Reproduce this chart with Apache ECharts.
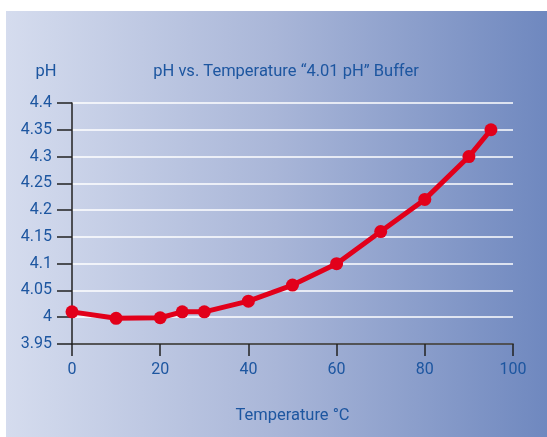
<!DOCTYPE html>
<html style="height: 100%">
<head>
    <meta charset="utf-8">
    <title>pH vs. Temperature</title>
</head>
<body style="height: 100%; margin: 0; background: #fff">
    <div id="container" style="width: 547px; height: 437px"></div>
    <script type="text/javascript" src="https://cdn.jsdelivr.net/npm/echarts@6/dist/echarts.min.js"></script>
    <script type="text/javascript">
        var temps = [0, 10, 20, 25, 30, 40, 50, 60, 70, 80, 90, 95];
        var phValues = [4.01, 3.998, 3.999, 4.01, 4.01, 4.03, 4.06, 4.10, 4.16, 4.22, 4.30, 4.35];
        var chartTitle = 'pH vs. Temperature \u201c4.01 pH\u201d Buffer';
        var yName = 'pH';
        var xName = 'Temperature \u00b0C';

        var data = temps.map(function (t, i) {
            return [t, phValues[i]];
        });

        var textBlue = '#1d56a0';
        var font = 'Roboto';

        var myChart = echarts.init(document.getElementById('container'));
        var option = {
            backgroundColor: '#ffffff',
            textStyle: { fontFamily: font },
            graphic: [{
                type: 'rect',
                z: -100,
                silent: true,
                shape: { x: 6, y: 11, width: 541, height: 426 },
                style: {
                    fill: new echarts.graphic.LinearGradient(0, 0, 1, 0, [
                        { offset: 0, color: '#d5dcee' },
                        { offset: 0.5, color: '#a9b6d8' },
                        { offset: 1, color: '#6f88bf' }
                    ])
                }
            }],
            title: [{
                text: chartTitle,
                left: 281,
                top: 58,
                textAlign: 'center',
                textStyle: { color: textBlue, fontSize: 16.5, fontWeight: 'normal', fontFamily: font }
            }, {
                text: yName,
                left: 41,
                top: 58,
                textAlign: 'center',
                textStyle: { color: textBlue, fontSize: 16.5, fontWeight: 'normal', fontFamily: font }
            }],
            grid: {
                left: 72,
                right: 34,
                top: 103,
                bottom: 93
            },
            xAxis: {
                type: 'value',
                min: 0,
                max: 100,
                interval: 20,
                name: xName,
                nameLocation: 'middle',
                nameGap: 63,
                nameTextStyle: { color: textBlue, fontSize: 16.5, fontFamily: font },
                axisLine: { lineStyle: { color: '#222', width: 1.5 } },
                axisTick: { show: true, length: 12, lineStyle: { color: '#222', width: 1.5 } },
                axisLabel: { color: textBlue, fontSize: 16, margin: 18, fontFamily: font },
                splitLine: { show: false }
            },
            yAxis: {
                type: 'value',
                min: 3.95,
                max: 4.4,
                interval: 0.05,
                axisLine: { show: true, lineStyle: { color: '#222', width: 1.5 } },
                axisTick: { show: true, length: 15, lineStyle: { color: '#222', width: 1.5 } },
                axisLabel: {
                    color: textBlue,
                    fontSize: 16,
                    margin: 20,
                    fontFamily: font,
                    formatter: function (v) {
                        return String(parseFloat(v.toFixed(2)));
                    }
                },
                splitLine: {
                    show: true,
                    lineStyle: { color: '#ffffff', width: 1.5 }
                }
            },
            series: [{
                name: 'pH',
                type: 'line',
                data: data,
                symbol: 'circle',
                symbolSize: 13,
                lineStyle: { color: '#e2001a', width: 5 },
                itemStyle: { color: '#e2001a' }
            }]
        };
        myChart.setOption(option);
    </script>
</body>
</html>
